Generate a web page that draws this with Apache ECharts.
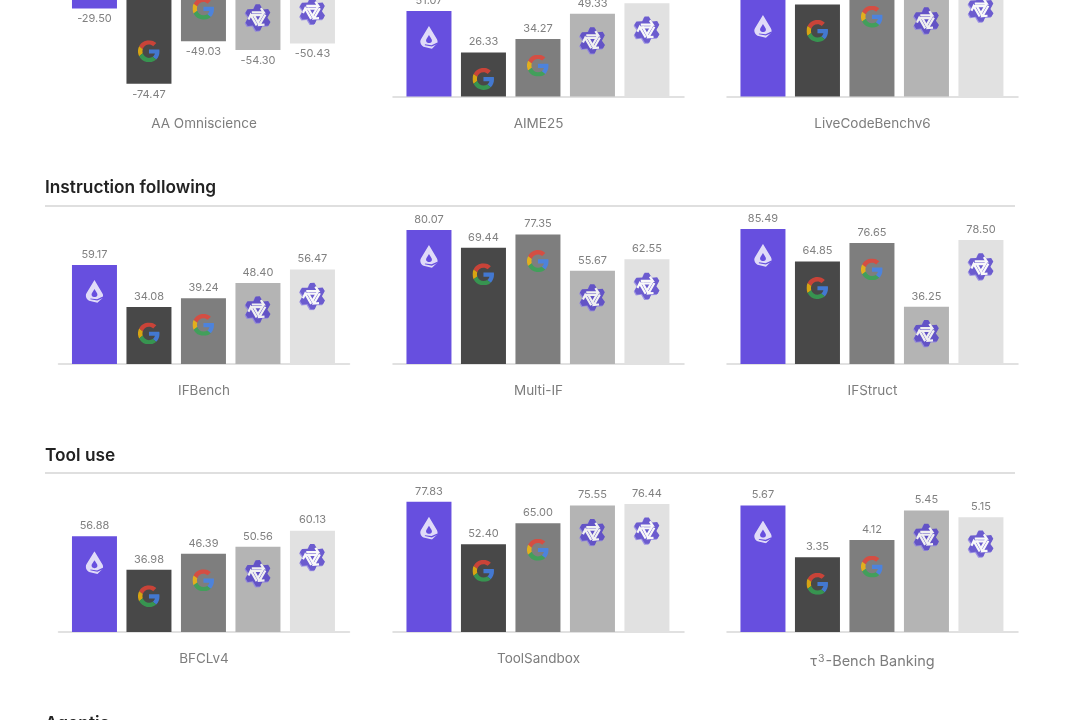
<!DOCTYPE html>
<html>
<head>
<meta charset="utf-8">
<style>html,body{margin:0;padding:0;background:#fff}#c{width:1076px;height:720px}</style>
<script src="https://cdn.jsdelivr.net/npm/echarts@6/dist/echarts.min.js"></script>
</head>
<body>
<div id="c"></div>
<script>
var models = ['Model A', 'Gemini A', 'Gemini B', 'Qwen A', 'Qwen B'];
var sections = ['Instruction following', 'Tool use', 'Agentic'];
var benchmarks = ['AA Omniscience', 'AIME25', 'LiveCodeBenchv6', 'IFBench', 'Multi-IF', 'IFStruct', 'BFCLv4', 'ToolSandbox', 'τ³-Bench Banking'];
var aaOmniscience = [-29.50, -74.47, -49.03, -54.30, -50.43];
var aime25 = [51.07, 26.33, 34.27, 49.33, 55.73];
var liveCodeBench = [57.60, 55.00, 63.50, 61.20, 68.30];
var ifBench = [59.17, 34.08, 39.24, 48.40, 56.47];
var multiIf = [80.07, 69.44, 77.35, 55.67, 62.55];
var ifStruct = [85.49, 64.85, 76.65, 36.25, 78.50];
var bfcl = [56.88, 36.98, 46.39, 50.56, 60.13];
var toolSandbox = [77.83, 52.40, 65.00, 75.55, 76.44];
var tauBench = [5.67, 3.35, 4.12, 5.45, 5.15];
var allValues = [aaOmniscience, aime25, liveCodeBench, ifBench, multiIf, ifStruct, bfcl, toolSandbox, tauBench];

var barColors = ['#674FDF', '#484848', '#7E7E7E', '#B4B4B4', '#E1E1E1'];
function uri(svg) { return 'image://data:image/svg+xml;charset=utf-8,' + encodeURIComponent(svg); }
var gIcon = uri('<svg xmlns="http://www.w3.org/2000/svg" width="96" height="96" viewBox="0 0 48 48"><path fill="#EA4335" d="M24 9.5c3.54 0 6.71 1.22 9.21 3.6l6.85-6.85C35.9 2.38 30.47 0 24 0 14.62 0 6.51 5.38 2.56 13.22l7.98 6.19C12.43 13.72 17.74 9.5 24 9.5z"/><path fill="#4285F4" d="M46.98 24.55c0-1.57-.15-3.09-.38-4.55H24v9.02h12.94c-.58 2.96-2.26 5.48-4.78 7.18l7.73 6c4.51-4.18 7.09-10.36 7.09-17.65z"/><path fill="#FBBC05" d="M10.53 28.59c-.48-1.45-.76-2.99-.76-4.59s.27-3.14.76-4.59l-7.98-6.19C.92 16.46 0 20.12 0 24c0 3.88.92 7.54 2.56 10.78l7.97-6.19z"/><path fill="#34A853" d="M24 48c6.48 0 11.93-2.13 15.89-5.81l-7.73-6c-2.15 1.45-4.92 2.3-8.16 2.3-6.26 0-11.57-4.22-13.47-9.91l-7.98 6.19C6.51 42.62 14.62 48 24 48z"/></svg>');
var dropIcon = uri('<svg xmlns="http://www.w3.org/2000/svg" width="72" height="92" viewBox="0 0 18 23"><path fill="#fff" d="M9 0 L17 13.4 C18.4 16 17.2 18.2 15.4 19.4 L12 22.8 L3.6 20.8 C0.8 19.2 -0.6 15.8 1 13.2 Z"/><path fill="#674FDF" d="M9 9 L11.6 13.2 C12.6 15.4 11.2 17 9.2 17 C6.9 17 5.4 15.2 6.4 13.2 Z"/><path fill="#674FDF" d="M17.4 16.6 L11.6 19.3 L5 18.4 L4.8 19.2 L11.8 20.6 L17.6 18 Z"/></svg>');
var arm = '<path d="M-6.4 -5.2 L6 -5.2 L3 -9.6 M6 -5.2 L-0.4 5.6" fill="none" stroke="#fff" stroke-width="2.3" stroke-linejoin="miter"/>';
var starPts = [];
[0, 1, 2, 3, 4, 5].forEach(function (k) {
  [[13.8, -10], [13.8, 8], [9.8, 32]].forEach(function (p) {
    var a = (k * 60 - 90 + p[1]) * Math.PI / 180;
    starPts.push((p[0] * Math.cos(a)).toFixed(2) + ' ' + (p[0] * Math.sin(a)).toFixed(2));
  });
});
var star = 'M' + starPts.join(' L') + ' Z';
var qIcon = uri('<svg xmlns="http://www.w3.org/2000/svg" width="112" height="112" viewBox="-15 -15 30 30"><path transform="translate(-.9 1)" fill="#8D80E4" d="' + star + '"/><path fill="#4F3CCB" d="' + star + '"/>' + arm + '<g transform="rotate(120)">' + arm + '</g><g transform="rotate(240)">' + arm + '</g></svg>');
var icons = [dropIcon, gIcon, gIcon, qIcon, qIcon];
var iconSizes = [[18, 23], [22, 22], [22, 22], [29, 29], [29, 29]];

// layout of the nine panels
var panelLefts = [58.5, 393, 727];
var rowBases = [96.5, 364, 632];
var pxPerUnit = [1.675, 1.675, 1.675, 1.673, 1.673, 1.58, 1.685, 1.673, 22.3];

var grids = [], xAxes = [], yAxes = [], series = [];
allValues.forEach(function (vals, p) {
  var col = p % 3, row = Math.floor(p / 3);
  var neg = vals[0] < 0;
  var span = p === 8 ? 7 : (neg ? 80 : 100);
  var h = span * pxPerUnit[p];
  var base = rowBases[row];
  // the negative panel hangs from a baseline above the top of the page
  var top = neg ? -41 : base - h;
  var nameY = base + (p === 8 ? 30 : 27);
  grids.push({ left: panelLefts[col], width: 291, top: top, height: h, outerBoundsMode: 'none' });
  xAxes.push({
    gridIndex: p, type: 'value', min: 0.34, max: 5.68, position: 'bottom',
    name: p === 8 ? '{t|τ}{s|3}{t|-Bench Banking}' : benchmarks[p],
    nameLocation: 'middle', nameGap: nameY - (top + h),
    nameTextStyle: {
      fontFamily: 'Inter', fontSize: 13.5, color: '#7d7d7d', verticalAlign: 'middle',
      rich: {
        t: { fontFamily: 'Inter', fontSize: 14.5, color: '#7d7d7d' },
        s: { fontFamily: 'Inter', fontSize: 10.5, color: '#7d7d7d', verticalAlign: 'top', padding: [0, 1, 7, 1] }
      }
    },
    axisLine: { show: !neg, onZero: false, lineStyle: { color: '#d8d8d8', width: 1.5 } },
    axisTick: { show: false }, axisLabel: { show: false }, splitLine: { show: false }
  });
  yAxes.push({ gridIndex: p, type: 'value', min: neg ? -span : 0, max: neg ? 0 : span, show: false });
  series.push({
    type: 'bar', xAxisIndex: p, yAxisIndex: p, barWidth: 45, silent: true, z: 3,
    data: vals.map(function (v, i) {
      return { name: models[i], value: [i + 1, v], itemStyle: { color: barColors[i] } };
    }),
    label: {
      show: true, position: 'outside', distance: 5, fontFamily: 'Inter', fontSize: 11, color: '#808080',
      formatter: function (o) { return o.value[1].toFixed(2); }
    }
  });
  series.push({
    type: 'scatter', xAxisIndex: p, yAxisIndex: p, silent: true, z: 5, clip: false,
    data: vals.map(function (v, i) {
      return {
        name: models[i], value: [i + 1, v], symbol: icons[i], symbolSize: iconSizes[i],
        symbolOffset: [0, neg ? -32.5 : 26.5]
      };
    })
  });
});

var titleTops = [177.5, 445.5, 713.5];
var chart = echarts.init(document.getElementById('c'), null, { renderer: 'canvas', width: 1076, height: 720 });
chart.setOption({
  animation: false, backgroundColor: '#ffffff',
  title: sections.map(function (s, i) {
    return { text: s, left: 45, top: titleTops[i], padding: 0, textStyle: { fontFamily: 'Inter', fontWeight: 600, fontSize: 17.3, color: '#222222', lineHeight: 20 } };
  }),
  graphic: [206, 473].map(function (y) {
    return { type: 'line', shape: { x1: 45, y1: y, x2: 1015, y2: y }, style: { stroke: '#d4d4d4', lineWidth: 1.5 }, silent: true };
  }),
  grid: grids, xAxis: xAxes, yAxis: yAxes, series: series
});
</script>
</body>
</html>
